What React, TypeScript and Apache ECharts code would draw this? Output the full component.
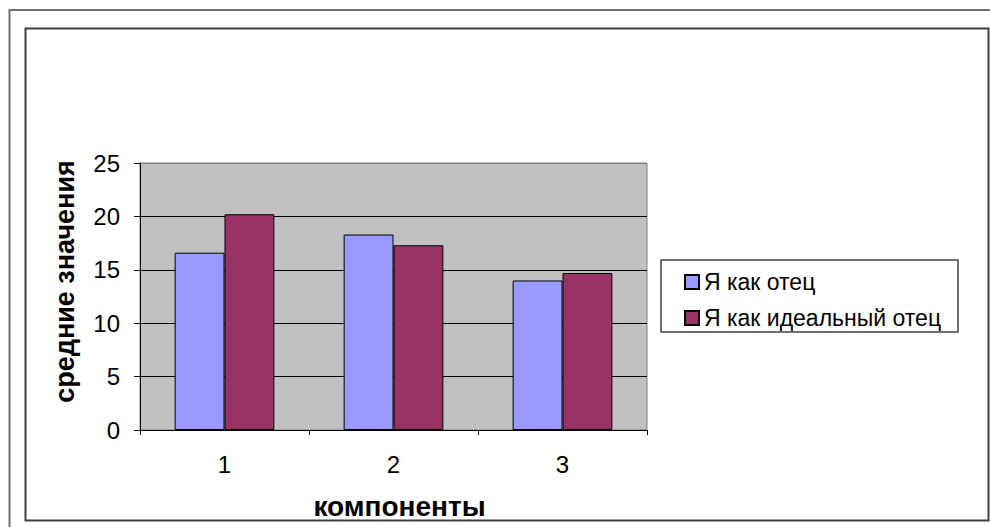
import React, { useEffect, useRef } from "react";
import * as echarts from "echarts";

const categories = ["1", "2", "3"];
const seriesNames = ["Я как отец", "Я как идеальный отец"];
const fatherValues = [16.6, 18.3, 14.0];
const idealFatherValues = [20.2, 17.3, 14.7];
const yTicks = [0, 5, 10, 15, 20, 25];
const xAxisName = "компоненты";
const yAxisName = "средние значения";

const FONT = "'Liberation Sans', Arial, sans-serif";

export default function App() {
  const ref = useRef<HTMLDivElement>(null);
  useEffect(() => {
    if (!ref.current) return;
    const chart = echarts.init(ref.current, undefined, { renderer: "svg" });
    const option = {
      animation: false,
      backgroundColor: "#ffffff",
      textStyle: { fontFamily: FONT },
      grid: {
        left: 140,
        right: 343,
        top: 163,
        bottom: 97,
        show: true,
        backgroundColor: "#C0C0C0",
        borderColor: "#808080",
        borderWidth: 1,
      },
      xAxis: {
        type: "category",
        data: categories,
        name: xAxisName,
        nameLocation: "middle",
        nameGap: 62,
        nameTextStyle: {
          fontSize: 28,
          fontWeight: "bold",
          color: "#000",
          fontFamily: FONT,
          padding: [0, 0, 0, 12],
        },
        axisLine: { lineStyle: { color: "#000", width: 1 } },
        axisTick: { show: true, length: 5, inside: false, lineStyle: { color: "#000" } },
        axisLabel: { fontSize: 24, color: "#000", margin: 22, fontFamily: FONT },
        splitLine: { show: false },
      },
      yAxis: {
        type: "value",
        min: yTicks[0],
        max: yTicks[yTicks.length - 1],
        interval: yTicks[1] - yTicks[0],
        name: yAxisName,
        nameLocation: "middle",
        nameGap: 62,
        nameTextStyle: {
          fontSize: 27,
          fontWeight: "bold",
          color: "#000",
          fontFamily: FONT,
          padding: [0, 0, 0, 30],
        },
        axisLine: { show: true, lineStyle: { color: "#000", width: 1 } },
        axisTick: { show: true, length: 6, inside: false, lineStyle: { color: "#000" } },
        axisLabel: { fontSize: 24, color: "#000", margin: 20, fontFamily: FONT },
        splitLine: {
          show: true,
          lineStyle: { color: ["#000", "#000", "#000", "#000", "#000", "#808080"], width: 1 },
        },
      },
      legend: {
        orient: "vertical",
        left: 679,
        top: 265,
        itemWidth: 14,
        itemHeight: 14,
        itemGap: 12,
        icon: "rect",
        textStyle: { fontSize: 23, lineHeight: 24, color: "#000", fontFamily: FONT },
        data: seriesNames,
      },
      graphic: [
        {
          type: "polyline",
          z: -10,
          shape: { points: [[9.5, 527], [9.5, 10], [990, 10]] },
          style: { stroke: "#707070", lineWidth: 2, fill: "none" },
          silent: true,
        },
        {
          type: "rect",
          z: -10,
          shape: { x: 25.5, y: 28.5, width: 963, height: 492 },
          style: { stroke: "#404040", lineWidth: 2, fill: "none" },
          silent: true,
        },
        {
          type: "rect",
          z: -5,
          shape: { x: 661, y: 260, width: 297, height: 72 },
          style: { stroke: "#404040", lineWidth: 1.5, fill: "#ffffff" },
          silent: true,
        },
      ],
      series: [
        {
          name: seriesNames[0],
          type: "bar",
          data: fatherValues,
          barGap: "0%",
          barCategoryGap: "41%",
          itemStyle: { color: "#9999FF", borderColor: "#000", borderWidth: 1 },
        },
        {
          name: seriesNames[1],
          type: "bar",
          data: idealFatherValues,
          barGap: "0%",
          barCategoryGap: "41%",
          itemStyle: { color: "#993366", borderColor: "#000", borderWidth: 1 },
        },
      ],
    };
    chart.setOption(option as any);
    return () => chart.dispose();
  }, []);
  return (
    <div
      ref={ref}
      style={{ position: "absolute", left: 0, top: 0, width: 990, height: 527 }}
    />
  );
}
